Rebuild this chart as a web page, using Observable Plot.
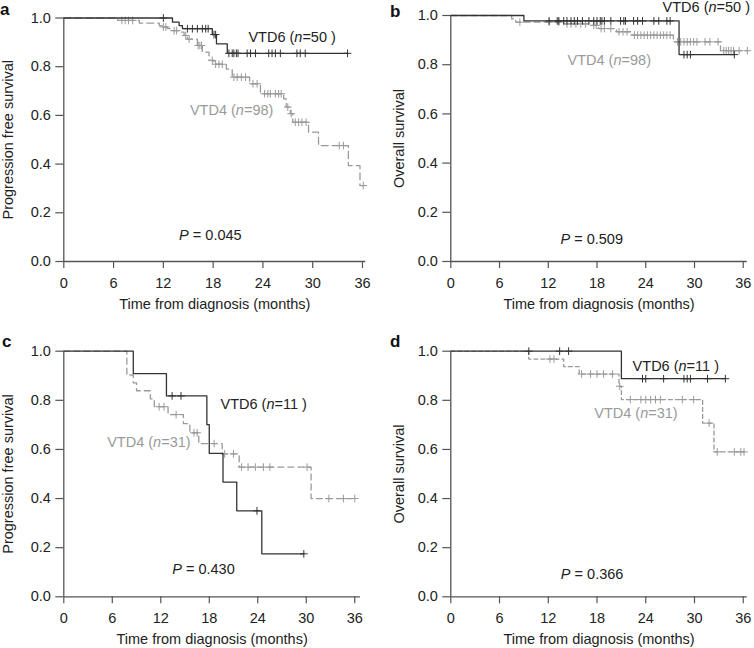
<!DOCTYPE html>
<html><head><meta charset="utf-8">
<script src="https://cdn.jsdelivr.net/npm/d3@7"></script>
<script src="https://cdn.jsdelivr.net/npm/@observablehq/plot@0.6"></script>
<style>
body{margin:0;background:#fff;}
#root{position:relative;width:754px;height:648px;font-family:"Liberation Sans",Arial,sans-serif;overflow:hidden;}
.panel{position:absolute;}
.letter{position:absolute;font-weight:bold;font-size:17px;line-height:17px;color:#111;}
</style></head><body><div id="root"></div>
<script>
// ---------- shared tick labels ----------
const xTicks = [0, 6, 12, 18, 24, 30, 36];
const yTicks = [0, 0.2, 0.4, 0.6, 0.8, 1.0];
const xTitle = "Time from diagnosis (months)";
const panelLetters = ["a", "b", "c", "d"];
const yTitles = ["Progression free survival", "Overall survival", "Progression free survival", "Overall survival"];
const groupNames = ["VTD6", "VTD4"];
const nA = [50, 98], nB = [50, 98], nC = [11, 31], nD = [11, 31];
const pValues = ["0.045", "0.509", "0.430", "0.366"];

// ---------- panel a : PFS, all patients ----------
const a6_times = [13.1, 13.9, 14.3, 17.9, 18.4, 19.7];
const a6_surv  = [0.983, 0.969, 0.956, 0.932, 0.894, 0.855];
const a6_end = 34.2;
const a6_cens = [12.0, 14.9, 15.5, 16.1, 16.7, 17.1, 17.4, 18.1, 18.3, 19.9, 20.3, 20.5, 20.8, 21.0, 22.1, 22.5, 23.1, 24.7, 25.1, 25.5, 26.1, 28.1, 28.5, 29.1, 34.2];
const a4_times = [6.5, 9.1, 11.5, 11.9, 12.5, 13.0, 14.1, 14.5, 14.9, 16.1, 16.7, 17.5, 18.1, 19.6, 20.3, 22.4, 23.7, 26.5, 26.8, 27.3, 27.6, 29.5, 30.7, 34.3, 35.7];
const a4_surv  = [0.99, 0.979, 0.969, 0.963, 0.956, 0.948, 0.942, 0.928, 0.913, 0.887, 0.86, 0.826, 0.81, 0.79, 0.757, 0.73, 0.689, 0.668, 0.634, 0.607, 0.572, 0.531, 0.476, 0.394, 0.312];
const a4_end = 36.1;
const a4_cens = [7.0, 7.4, 7.8, 8.3, 12.0, 12.3, 13.3, 13.6, 14.7, 15.1, 16.2, 16.4, 16.6, 17.9, 18.3, 18.7, 19.1, 20.5, 20.9, 21.4, 21.9, 22.8, 23.3, 24.2, 24.6, 24.9, 25.5, 25.9, 26.2, 27.0, 27.4, 27.9, 28.3, 28.7, 29.2, 33.2, 33.7, 36.1];

// ---------- panel b : OS, all patients ----------
const b6_times = [9.0, 28.1];
const b6_surv  = [0.978, 0.841];
const b6_end = 34.9;
const b6_cens = [12.1, 13.1, 13.3, 13.9, 14.3, 14.8, 15.2, 15.6, 16.2, 17.0, 17.6, 18.0, 18.4, 18.6, 18.9, 19.7, 20.9, 21.3, 21.5, 22.5, 23.0, 23.6, 25.0, 25.6, 26.6, 27.0, 28.7, 29.1, 29.5, 34.9];
const b4_times = [7.5, 8.0, 13.9, 17.2, 18.2, 20.4, 22.3, 27.4, 33.2];
const b4_surv  = [0.986, 0.973, 0.966, 0.96, 0.947, 0.934, 0.92, 0.893, 0.857];
const b4_end = 36.6;
const b4_cens = [8.5, 12.1, 13.3, 14.3, 14.8, 15.4, 16.0, 16.6, 17.6, 17.9, 18.5, 18.9, 19.7, 20.7, 21.2, 21.7, 22.6, 23.0, 23.4, 23.8, 24.2, 24.6, 25.0, 25.4, 25.8, 26.2, 26.6, 27.0, 27.9, 28.3, 28.7, 29.1, 29.5, 29.9, 30.3, 31.3, 31.9, 32.9, 33.6, 33.9, 34.2, 34.5, 34.8, 35.5, 36.5];

// ---------- panel c : PFS, subgroup ----------
const c6_times = [8.6, 12.7, 17.7, 18.0, 19.7, 21.4, 24.5];
const c6_surv  = [0.909, 0.818, 0.701, 0.584, 0.467, 0.35, 0.175];
const c6_end = 29.7;
const c6_cens = [13.4, 14.5, 23.9, 29.7];
const c4_times = [7.8, 8.6, 9.0, 10.7, 11.2, 12.9, 14.8, 15.6, 16.7, 19.6, 21.7, 30.6];
const c4_surv  = [0.903, 0.871, 0.839, 0.806, 0.774, 0.742, 0.705, 0.668, 0.624, 0.582, 0.528, 0.40];
const c4_end = 36.0;
const c4_cens = [11.8, 12.4, 13.9, 16.1, 16.5, 18.6, 19.9, 21.0, 22.0, 22.8, 23.7, 24.7, 25.5, 30.1, 32.8, 34.6, 36.0];

// ---------- panel d : OS, subgroup ----------
const d6_times = [21.0];
const d6_surv  = [0.888];
const d6_end = 33.8;
const d6_cens = [9.6, 13.4, 14.5, 23.6, 24.0, 26.2, 28.7, 29.1, 29.5, 31.6, 33.8];
const d4_times = [9.6, 13.9, 15.8, 20.7, 21.0, 31.0, 32.4];
const d4_surv  = [0.968, 0.937, 0.907, 0.857, 0.803, 0.707, 0.59];
const d4_end = 36.1;
const d4_cens = [12.2, 12.7, 16.1, 17.2, 18.0, 18.8, 19.9, 20.8, 22.1, 23.4, 24.0, 24.6, 25.2, 25.8, 28.5, 29.9, 31.8, 32.8, 34.9, 35.7, 36.1];

// ---------- helpers ----------
function stepPoints(times, surv, end) {
  const pts = [{t: 0, s: 1}];
  times.forEach((t, i) => pts.push({t, s: surv[i]}));
  pts.push({t: end, s: surv[surv.length - 1]});
  return pts;
}
function survAt(times, surv, t) {
  let s = 1;
  for (let i = 0; i < times.length; i++) if (times[i] <= t) s = surv[i];
  return s;
}
function censPoints(times, surv, cens) {
  return cens.map(t => ({t, s: survAt(times, surv, t)}));
}

const DARK = "#333", GREY = "#9a9a9a", AXIS = "#555", TEXT = "#222";
const FS = 14.5;

const panels = [
  {left: 0, top: 0, mL: 63.3, mR: 11.7, mT: 17.5, mB: 63, xMax: 36.4, ylDx: -55.3, dash: "7,4",
   g6: [a6_times, a6_surv, a6_end, a6_cens], g4: [a4_times, a4_surv, a4_end, a4_cens], n: nA,
   lab6: [22.25, 0.921], lab4: [15.2, 0.62], labP: [13.9, 0.107], sp6: " ",
   letterPos: [0, 0.5]},
  {left: 377, top: 0, mL: 73.3, mR: 7.2, mT: 15, mB: 63, xMax: 36.5, ylDx: -51.6, dash: "6,4",
   g6: [b6_times, b6_surv, b6_end, b6_cens], g4: [b4_times, b4_surv, b4_end, b4_cens], n: nB,
   lab6: [26.07, 1.034], lab4: [14.37, 0.817], labP: [13.5, 0.092], sp6: " ",
   letterPos: [390, 2.5]},
  {left: 0, top: 324, mL: 63.3, mR: 17.1, mT: 26.7, mB: 51.7, xMax: 36.7, ylDx: -55.8, dash: "6,4",
   g6: [c6_times, c6_surv, c6_end, c6_cens], g4: [c4_times, c4_surv, c4_end, c4_cens], n: nC,
   lab6: [19.39, 0.783], lab4: [5.37, 0.627], labP: [13.42, 0.111], sp6: " ",
   letterPos: [2, 332.5]},
  {left: 377, top: 324, mL: 73.3, mR: 7.2, mT: 26.7, mB: 51.7, xMax: 36.5, ylDx: -51.6, dash: "4,3",
   g6: [d6_times, d6_surv, d6_end, d6_cens], g4: [d4_times, d4_surv, d4_end, d4_cens], n: nD,
   lab6: [22.38, 0.939], lab4: [17.66, 0.745], labP: [13.55, 0.091], sp6: " ",
   letterPos: [390, 332.5]}
];

const root = document.getElementById("root");

panels.forEach((p, i) => {
  const line6 = stepPoints(p.g6[0], p.g6[1], p.g6[2]);
  const line4 = stepPoints(p.g4[0], p.g4[1], p.g4[2]);
  const cens6 = censPoints(p.g6[0], p.g6[1], p.g6[3]);
  const cens4 = censPoints(p.g4[0], p.g4[1], p.g4[3]);
  const labels = [
    {t: p.lab6[0], s: p.lab6[1], pre: groupNames[0] + " (", it: "n", post: "=" + p.n[0] + p.sp6 + ")", fill: TEXT},
    {t: p.lab4[0], s: p.lab4[1], pre: groupNames[1] + " (", it: "n", post: "=" + p.n[1] + ")", fill: GREY},
    {t: p.labP[0], s: p.labP[1], pre: "", it: "P", post: " = " + pValues[i], fill: TEXT}
  ];
  const full = d => d.pre + d.it + d.post;

  const svg = Plot.plot({
    width: 377, height: 324,
    marginLeft: p.mL, marginRight: p.mR, marginTop: p.mT, marginBottom: p.mB,
    x: {domain: [0, p.xMax]},
    y: {domain: [0, 1]},
    style: {fontFamily: "'Liberation Sans', Arial, sans-serif", fontSize: FS + "px", color: TEXT, background: "transparent", overflow: "visible"},
    marks: [
      Plot.axisX({ticks: xTicks, tickSize: 7, tickPadding: 9, label: null, stroke: AXIS, strokeWidth: 1.2, fontSize: FS, tickFormat: d => String(d)}),
      Plot.axisY({ticks: yTicks, tickSize: 8, tickPadding: 5, label: null, stroke: AXIS, strokeWidth: 1.2, fontSize: FS, tickFormat: d => d.toFixed(1)}),
      Plot.ruleX([0], {stroke: AXIS, strokeWidth: 1.3}),
      Plot.ruleY([0], {stroke: AXIS, strokeWidth: 1.3}),
      Plot.line(line4, {x: "t", y: "s", curve: "step-after", stroke: GREY, strokeWidth: 1.3, strokeDasharray: p.dash}),
      Plot.dot(cens4, {x: "t", y: "s", symbol: "plus", r: 2.6, stroke: GREY, strokeWidth: 1}),
      Plot.line(line6, {x: "t", y: "s", curve: "step-after", stroke: DARK, strokeWidth: 1.3}),
      Plot.dot(cens6, {x: "t", y: "s", symbol: "plus", r: 2.6, stroke: DARK, strokeWidth: 1}),
      Plot.text(labels, {x: "t", y: "s", text: full, fill: "fill", textAnchor: "start", lineAnchor: "middle", fontSize: FS}),
      Plot.text([yTitles[i]], {text: d => d, frameAnchor: "left", textAnchor: "middle", lineAnchor: "middle", dx: p.ylDx, rotate: -90, fontSize: FS, fill: TEXT}),
      Plot.text([xTitle], {text: d => d, frameAnchor: "bottom", textAnchor: "middle", lineAnchor: "middle", dy: 43, fontSize: FS, fill: TEXT})
    ]
  });

  // italicise "n" and "P" inside labels
  const NS = "http://www.w3.org/2000/svg";
  svg.querySelectorAll("text").forEach(el => {
    const lab = labels.find(d => full(d) === el.textContent);
    if (!lab) return;
    while (el.firstChild) el.removeChild(el.firstChild);
    if (lab.pre) el.appendChild(document.createTextNode(lab.pre));
    const ts = document.createElementNS(NS, "tspan");
    ts.setAttribute("font-style", "italic");
    ts.textContent = lab.it;
    el.appendChild(ts);
    el.appendChild(document.createTextNode(lab.post));
  });

  const wrap = document.createElement("div");
  wrap.className = "panel";
  wrap.style.left = p.left + "px";
  wrap.style.top = p.top + "px";
  wrap.appendChild(svg);
  root.appendChild(wrap);

  const letter = document.createElement("div");
  letter.className = "letter";
  letter.textContent = panelLetters[i];
  letter.style.left = p.letterPos[0] + "px";
  letter.style.top = p.letterPos[1] + "px";
  root.appendChild(letter);
});
</script>
</body></html>
